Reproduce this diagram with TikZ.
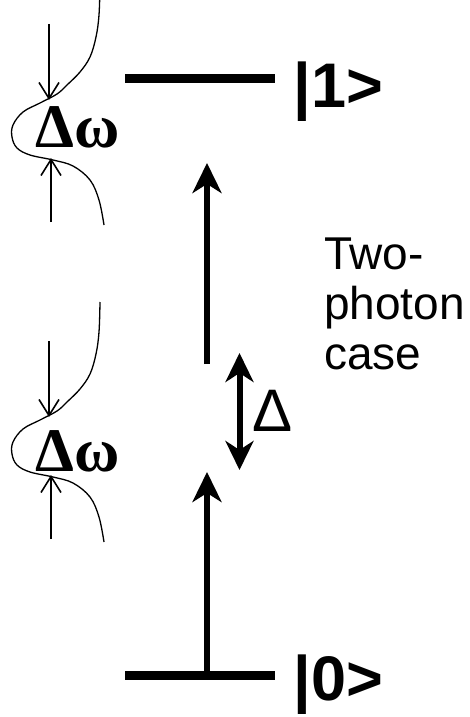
\documentclass[tikz,border=0pt]{standalone}
\usepackage{fontspec}
\setmainfont{Liberation Sans}
\newfontfamily\greekserif{Liberation Serif}
\usetikzlibrary{arrows.meta,positioning}
\tikzset{
  lvl/.style={fill=black, minimum width=150pt, minimum height=9pt, inner sep=0pt},
  ket/.style={inner sep=0pt, anchor=base west, font=\fontsize{63}{63}\selectfont\bfseries},
  bandlbl/.style={inner sep=0pt, anchor=base, font=\greekserif\bfseries\fontsize{62}{62}\selectfont},
  photon/.style={-{Stealth[length=30pt, width=29pt, inset=9pt]}, line width=6pt},
  detune/.style={{Stealth[length=29pt, width=28pt, inset=9pt]}-{Stealth[length=29pt, width=28pt, inset=9pt]}, line width=6pt},
  bandarr/.style={-{Straight Barb[length=16pt, width=20pt]}, line width=1.6pt},
  profile/.style={line width=1.3pt},
}

\begin{document}
\begin{tikzpicture}[x=1pt, y=-1pt]
  \path[use as bounding box, clip] (0,0) rectangle (469,717);
  % levels
  \node[lvl] (lev1) at (200,78) {};
  \node[lvl] (lev0) at (200,675) {};
  \node[ket] (ket1) at (293.5,107) {|1>};
  \node[ket] (ket0) at (293.5,700) {|0>};
  % two photons
  \coordinate (up0) at (207,675);
  \coordinate (up1) at (207,472);
  \coordinate (vt0) at (207,364);
  \coordinate (vt1) at (207,163);
  \draw[photon] (up0) -- (up1);
  \draw[photon] (vt0) -- (vt1);
  \coordinate (dtop) at (239.5,353);
  \coordinate (dbot) at (239.5,470);
  \draw[detune] (dtop) -- (dbot);
  \node[inner sep=0pt, anchor=base west, font=\fontsize{60}{60}\selectfont] (dlt) at (252,431) {Δ};
  \node[inner sep=0pt, anchor=north west, align=left, font=\fontsize{46}{50}\selectfont] (case) at (324,238) {Two-\\photon\\case};
  % laser bandwidths
  \node[bandlbl] (dw1) at (77.5,147) {Δω};
  \node[bandlbl] (dw0) at (77.5,471) {Δω};
  \foreach \s/\n in {0/a,317/b}{
    \begin{scope}[shift={(0,\s)}]
      \draw[profile] plot[smooth, tension=0.6] coordinates {(100,-15) (99,15) (96,37) (90,57) (80,72) (67,85) (57,94) (40,103) (23,112) (13,125) (12,137) (17,148) (30,155) (53,160) (73,166) (90,180) (99,200) (104,225)};
      \coordinate (top\n) at (49,24);
      \coordinate (tip\n) at (49,100);
      \coordinate (bot\n) at (51,222);
      \coordinate (btip\n) at (51,158);
      \draw[bandarr] (top\n) -- (tip\n);
      \draw[bandarr] (bot\n) -- (btip\n);
    \end{scope}
  }
\end{tikzpicture}
\end{document}
